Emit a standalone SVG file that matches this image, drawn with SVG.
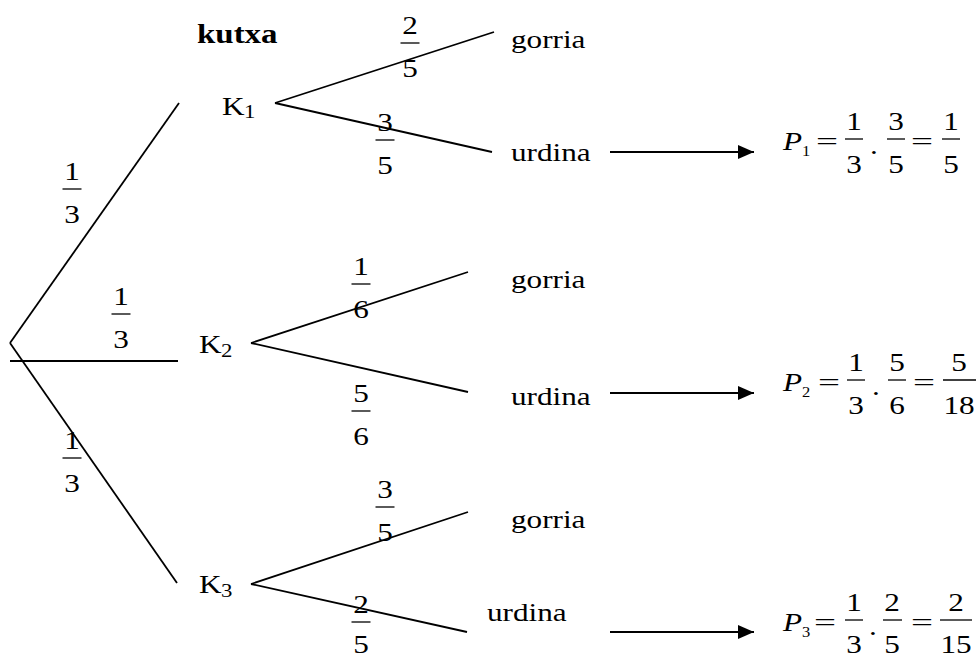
<svg xmlns="http://www.w3.org/2000/svg" width="978" height="660" viewBox="0 0 978 660">
  <style>
    .t { font-size: 26px; fill: #000; }
    .b { font-weight: bold; font-size: 27px; }
    .i { font-style: italic; }
    .sub { font-size: 19px; }
    .psub { font-size: 15px; }
    .m { text-anchor: middle; }
    .ln { stroke: #000; stroke-width: 1.8; fill: none; }
    .bar { stroke: #000; stroke-width: 1.3; }
    .arr { stroke: #000; stroke-width: 2; }
  </style>
  <defs>
    <marker id="head" markerWidth="16" markerHeight="14" refX="16" refY="7" orient="auto" markerUnits="userSpaceOnUse">
      <path d="M0,0 L16,7 L0,14 Z" fill="#000"/>
    </marker>
  </defs>
  <rect width="978" height="660" fill="#fff"/>

  <!-- tree branches and result arrows -->
  <g id="connectors">
    <line class="ln" x1="10" y1="343" x2="179" y2="103"/>
    <line class="ln" x1="10" y1="343" x2="177" y2="583"/>
    <line class="ln" x1="10" y1="361" x2="178" y2="361"/>
    <line class="ln" x1="275" y1="103" x2="494" y2="32"/>
    <line class="ln" x1="275" y1="103" x2="492" y2="152"/>
    <line class="ln" x1="251" y1="343" x2="468" y2="272"/>
    <line class="ln" x1="251" y1="343" x2="468" y2="392"/>
    <line class="ln" x1="251" y1="584" x2="468" y2="512"/>
    <line class="ln" x1="251" y1="584" x2="467" y2="632"/>
    <line class="arr" x1="610" y1="152" x2="754" y2="152" marker-end="url(#head)"/>
    <line class="arr" x1="610" y1="393" x2="754" y2="393" marker-end="url(#head)"/>
    <line class="arr" x1="610" y1="632" x2="754" y2="632" marker-end="url(#head)"/>
  </g>

  <g font-family="Liberation Serif" class="t">
  <!-- heading -->
  <g id="title">
    <text class="b" transform="translate(197 43) scale(1.22 1)">kutxa</text>
  </g>

  <!-- branch probabilities -->
  <g id="probs">
    <g transform="translate(72 189)">
      <text class="m" transform="translate(0 -9) scale(1.2 1)">1</text>
      <line class="bar" x1="-9.5" y1="0" x2="9.5" y2="0"/>
      <text class="m" transform="translate(0 34) scale(1.2 1)">3</text>
    </g>
    <g transform="translate(121 314)">
      <text class="m" transform="translate(0 -9) scale(1.2 1)">1</text>
      <line class="bar" x1="-9.5" y1="0" x2="9.5" y2="0"/>
      <text class="m" transform="translate(0 34) scale(1.2 1)">3</text>
    </g>
    <g transform="translate(72 458)">
      <text class="m" transform="translate(0 -9) scale(1.2 1)">1</text>
      <line class="bar" x1="-9.5" y1="0" x2="9.5" y2="0"/>
      <text class="m" transform="translate(0 34) scale(1.2 1)">3</text>
    </g>
    <g transform="translate(410 43)">
      <text class="m" transform="translate(0 -9) scale(1.2 1)">2</text>
      <line class="bar" x1="-9.5" y1="0" x2="9.5" y2="0"/>
      <text class="m" transform="translate(0 34) scale(1.2 1)">5</text>
    </g>
    <g transform="translate(385 140)">
      <text class="m" transform="translate(0 -9) scale(1.2 1)">3</text>
      <line class="bar" x1="-9.5" y1="0" x2="9.5" y2="0"/>
      <text class="m" transform="translate(0 34) scale(1.2 1)">5</text>
    </g>
    <g transform="translate(361 284)">
      <text class="m" transform="translate(0 -9) scale(1.2 1)">1</text>
      <line class="bar" x1="-9.5" y1="0" x2="9.5" y2="0"/>
      <text class="m" transform="translate(0 34) scale(1.2 1)">6</text>
    </g>
    <g transform="translate(361 411)">
      <text class="m" transform="translate(0 -9) scale(1.2 1)">5</text>
      <line class="bar" x1="-9.5" y1="0" x2="9.5" y2="0"/>
      <text class="m" transform="translate(0 34) scale(1.2 1)">6</text>
    </g>
    <g transform="translate(385 507)">
      <text class="m" transform="translate(0 -9) scale(1.2 1)">3</text>
      <line class="bar" x1="-9.5" y1="0" x2="9.5" y2="0"/>
      <text class="m" transform="translate(0 34) scale(1.2 1)">5</text>
    </g>
    <g transform="translate(361 622)">
      <text class="m" transform="translate(0 -9) scale(1.2 1)">2</text>
      <line class="bar" x1="-9.5" y1="0" x2="9.5" y2="0"/>
      <text class="m" transform="translate(0 31) scale(1.2 1)">5</text>
    </g>
  </g>

  <!-- box nodes -->
  <g id="k1">
    <text transform="translate(222 115) scale(1.2 1)">K</text>
    <text class="sub" transform="translate(244 118) scale(1.2 1)">1</text>
  </g>
  <g id="k2">
    <text transform="translate(199 353) scale(1.2 1)">K</text>
    <text class="sub" transform="translate(221 357) scale(1.2 1)">2</text>
  </g>
  <g id="k3">
    <text transform="translate(199 593) scale(1.2 1)">K</text>
    <text class="sub" transform="translate(221 597) scale(1.2 1)">3</text>
  </g>

  <!-- outcome leaves -->
  <g id="k1-gorria"><text transform="translate(511 48) scale(1.2 1)">gorria</text></g>
  <g id="k1-urdina"><text transform="translate(511 161) scale(1.2 1)">urdina</text></g>
  <g id="k2-gorria"><text transform="translate(511 288) scale(1.2 1)">gorria</text></g>
  <g id="k2-urdina"><text transform="translate(511 405) scale(1.2 1)">urdina</text></g>
  <g id="k3-gorria"><text transform="translate(511 528) scale(1.2 1)">gorria</text></g>
  <g id="k3-urdina"><text transform="translate(487 621) scale(1.2 1)">urdina</text></g>

  <!-- result P1 -->
  <g id="p1" transform="translate(0 139)">
    <text class="i" transform="translate(783 11) scale(1.2 1)">P</text>
    <text class="psub" transform="translate(802 17) scale(1.1 1)">1</text>
    <text class="m" transform="translate(827 11) scale(1.5 1)">=</text>
    <text class="m" transform="translate(854 -9) scale(1.2 1)">1</text>
    <line class="bar" x1="845" y1="0" x2="863" y2="0"/>
    <text class="m" transform="translate(854 34) scale(1.2 1)">3</text>
    <text class="m" transform="translate(874 15) scale(1.2 1)">.</text>
    <text class="m" transform="translate(896 -9) scale(1.2 1)">3</text>
    <line class="bar" x1="887" y1="0" x2="905" y2="0"/>
    <text class="m" transform="translate(896 34) scale(1.2 1)">5</text>
    <text class="m" transform="translate(922 11) scale(1.5 1)">=</text>
    <text class="m" transform="translate(951 -9) scale(1.2 1)">1</text>
    <line class="bar" x1="942" y1="0" x2="960" y2="0"/>
    <text class="m" transform="translate(951 34) scale(1.2 1)">5</text>
  </g>

  <!-- result P2 -->
  <g id="p2" transform="translate(0 380)">
    <text class="i" transform="translate(783 11) scale(1.2 1)">P</text>
    <text class="psub" transform="translate(802 17) scale(1.1 1)">2</text>
    <text class="m" transform="translate(829 11) scale(1.5 1)">=</text>
    <text class="m" transform="translate(856 -9) scale(1.2 1)">1</text>
    <line class="bar" x1="847" y1="0" x2="865" y2="0"/>
    <text class="m" transform="translate(856 34) scale(1.2 1)">3</text>
    <text class="m" transform="translate(876 15) scale(1.2 1)">.</text>
    <text class="m" transform="translate(897 -9) scale(1.2 1)">5</text>
    <line class="bar" x1="888" y1="0" x2="906" y2="0"/>
    <text class="m" transform="translate(897 34) scale(1.2 1)">6</text>
    <text class="m" transform="translate(924 11) scale(1.5 1)">=</text>
    <text class="m" transform="translate(959 -9) scale(1.2 1)">5</text>
    <line class="bar" x1="943" y1="0" x2="976" y2="0"/>
    <text class="m" transform="translate(959 34) scale(1.2 1)">18</text>
  </g>

  <!-- result P3 -->
  <g id="p3" transform="translate(0 620)">
    <text class="i" transform="translate(783 11) scale(1.2 1)">P</text>
    <text class="psub" transform="translate(802 17) scale(1.1 1)">3</text>
    <text class="m" transform="translate(825 11) scale(1.5 1)">=</text>
    <text class="m" transform="translate(854 -9) scale(1.2 1)">1</text>
    <line class="bar" x1="845" y1="0" x2="863" y2="0"/>
    <text class="m" transform="translate(854 33) scale(1.2 1)">3</text>
    <text class="m" transform="translate(873 15) scale(1.2 1)">.</text>
    <text class="m" transform="translate(892 -9) scale(1.2 1)">2</text>
    <line class="bar" x1="883" y1="0" x2="902" y2="0"/>
    <text class="m" transform="translate(892 33) scale(1.2 1)">5</text>
    <text class="m" transform="translate(922 11) scale(1.5 1)">=</text>
    <text class="m" transform="translate(956 -9) scale(1.2 1)">2</text>
    <line class="bar" x1="940" y1="0" x2="972" y2="0"/>
    <text class="m" transform="translate(956 33) scale(1.2 1)">15</text>
  </g>
  </g>
</svg>
